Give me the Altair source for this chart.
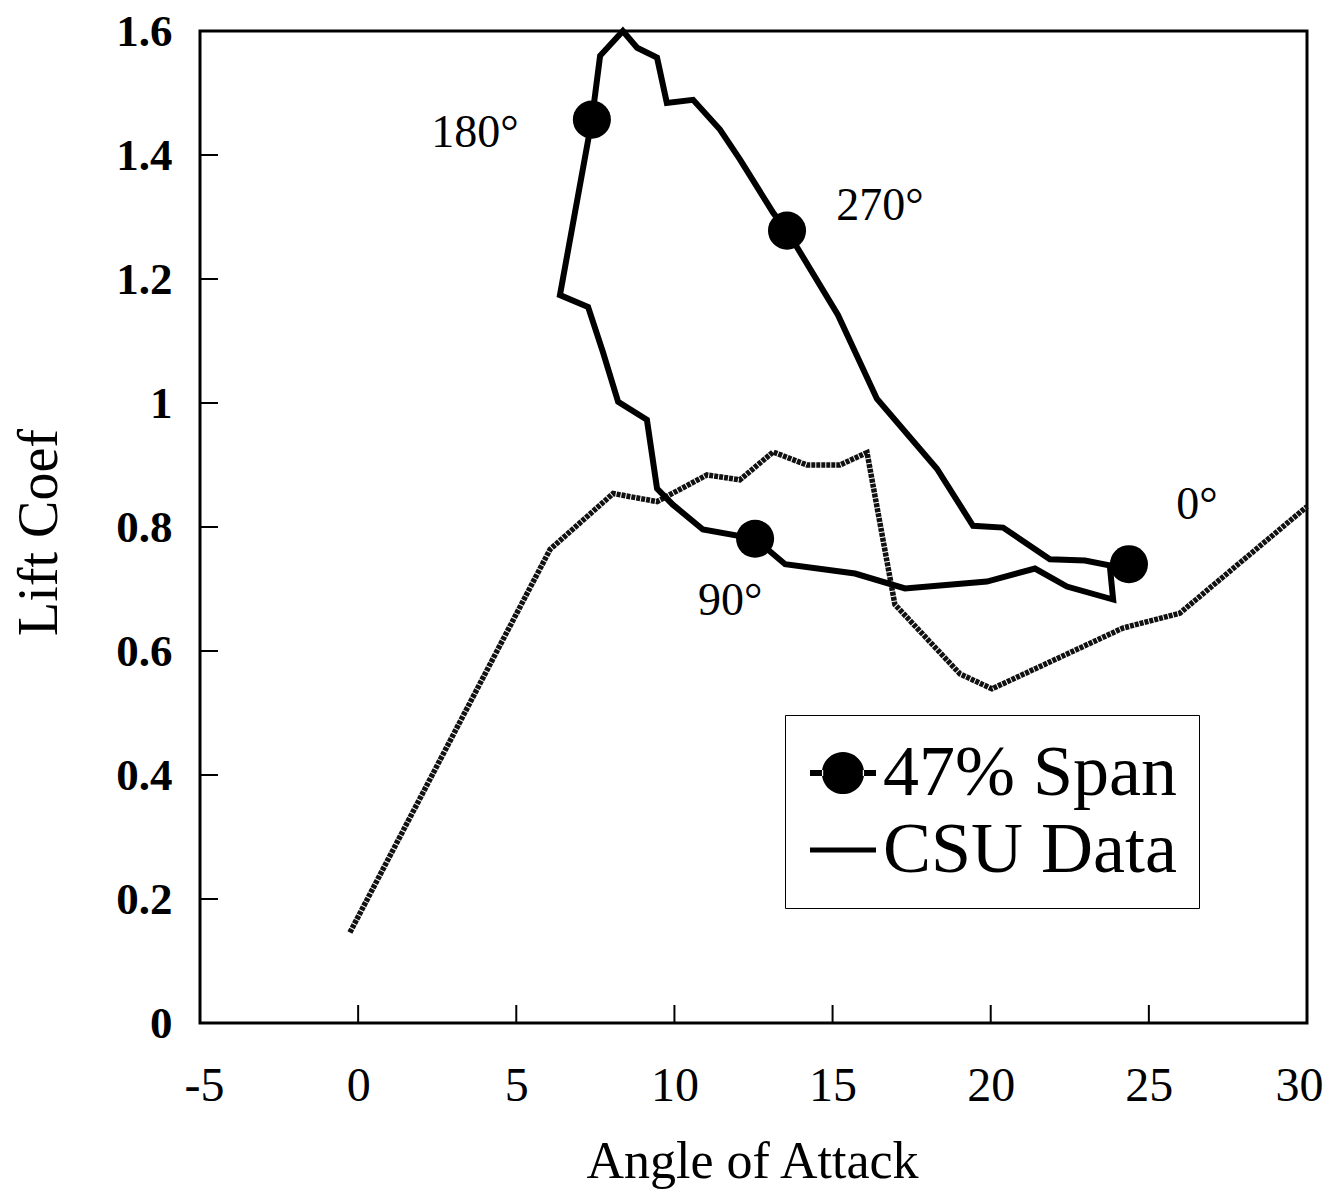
import altair as alt
import pandas as pd

# ---- data ----
span_x = [24.37, 23.77, 23.87, 22.41, 21.40, 19.88, 17.29, 15.71, 13.50, 12.55, 10.90, 9.95, 9.45,
          9.13, 8.22, 7.74, 7.27, 6.38, 7.39, 7.65, 8.37, 8.82, 9.45, 9.76, 10.59, 11.44, 12.07,
          13.12, 13.56, 15.17, 16.40, 18.30, 19.44, 20.39, 21.87, 22.98, 23.77, 24.37]
span_y = [0.740, 0.735, 0.683, 0.704, 0.733, 0.712, 0.701, 0.725, 0.740, 0.781, 0.796, 0.836, 0.862,
          0.973, 1.002, 1.082, 1.155, 1.174, 1.457, 1.560, 1.600, 1.573, 1.557, 1.484, 1.489, 1.441, 1.393,
          1.307, 1.278, 1.142, 1.007, 0.894, 0.802, 0.799, 0.748, 0.746, 0.738, 0.740]

marker_x = [24.37, 12.55, 7.39, 13.56]
marker_y = [0.740, 0.781, 1.457, 1.278]

csu_x = [-0.26, 6.07, 8.06, 9.45, 11.03, 12.07, 13.12, 14.19, 15.23, 16.09, 16.97, 19.03, 20.04, 24.18, 25.98, 30.0]
csu_y = [0.146, 0.764, 0.854, 0.841, 0.884, 0.876, 0.921, 0.900, 0.900, 0.920, 0.675, 0.563, 0.539, 0.637, 0.661, 0.833]

label_text = ["180°", "270°", "90°", "0°"]
label_x = [3.69, 16.50, 11.76, 26.52]
label_y = [1.436, 1.318, 0.680, 0.836]

x_ticks = [-5, 0, 5, 10, 15, 20, 25, 30]
y_ticks = [0, 0.2, 0.4, 0.6, 0.8, 1.0, 1.2, 1.4, 1.6]
x_inner_ticks = [0, 5, 10, 15, 20, 25]
y_inner_ticks = [0.2, 0.4, 0.6, 0.8, 1.0, 1.2, 1.4]

series_names = ["47% Span", "CSU Data"]

# ---- tables ----
span_df = pd.DataFrame({"x": span_x, "y": span_y, "i": list(range(len(span_x)))})
csu_df = pd.DataFrame({"x": csu_x, "y": csu_y, "i": list(range(len(csu_x)))})
mk_df = pd.DataFrame({"x": marker_x, "y": marker_y, "series": series_names[0]})
lab_df = pd.DataFrame({"x": label_x, "y": label_y, "label": label_text})
xt_df = pd.DataFrame({"x": x_inner_ticks})
yt_df = pd.DataFrame({"y": y_inner_ticks})

FONT = "Liberation Serif"
xscale = alt.Scale(domain=[-5, 30], nice=False, zero=False)
yscale = alt.Scale(domain=[0, 1.6], nice=False, zero=False)

xaxis = alt.Axis(values=x_ticks, labelExpr="'' + datum.value", title="Angle of Attack",
                 labelFont=FONT, labelFontSize=48, labelColor="black",
                 labelPadding=77, labelBaseline="alphabetic",
                 labelFlush=True, labelFlushOffset=16, labelOverlap=False,
                 ticks=True, tickSize=0, domain=False, grid=False,
                 titleFont=FONT, titleFontSize=52, titleFontWeight="normal", titleColor="black",
                 titleX=552, titleY=154, titleAlign="center", titleBaseline="alphabetic")
yaxis = alt.Axis(values=y_ticks, labelExpr="'' + datum.value", title="Lift Coef",
                 labelFont=FONT, labelFontSize=45, labelFontWeight="bold", labelColor="black",
                 labelPadding=28, labelFlush=False, labelOverlap=False,
                 ticks=True, tickSize=0, domain=False, grid=False,
                 titleFont=FONT, titleFontSize=56, titleFontWeight="normal", titleColor="black",
                 titleAngle=270, titleX=-144, titleY=501, titleAlign="center", titleBaseline="alphabetic")

X = alt.X("x:Q", scale=xscale, axis=xaxis)
Y = alt.Y("y:Q", scale=yscale, axis=yaxis)
Xp = alt.X("x:Q", scale=xscale)
Yp = alt.Y("y:Q", scale=yscale)

csu = alt.Chart(csu_df).mark_line(color="#111111", strokeWidth=5.5, strokeDash=[4, 1]).encode(
    x=X, y=Y, order=alt.Order("i:Q"))

span = alt.Chart(span_df).mark_line(color="black", strokeWidth=6, strokeJoin="miter").encode(
    x=Xp, y=Yp, order=alt.Order("i:Q"))

markers = alt.Chart(mk_df).mark_point(filled=True, shape="circle", size=1450, color="black", opacity=1).encode(
    x=Xp, y=Yp)

# legend symbols built from filled shapes only (unit box -1..1)
span_path = ("M-1,-0.09L-0.6,-0.09L-0.6,0.09L-1,0.09Z"
             "M0.6,-0.09L1,-0.09L1,0.09L0.6,0.09Z"
             "M-0.64,0A0.64,0.64,0,1,0,0.64,0A0.64,0.64,0,1,0,-0.64,0Z")
csu_path = "M-1,-0.075L1,-0.075L1,0.075L-1,0.075Z"

legend_layer = alt.Chart(mk_df).mark_point(filled=True, color="black", opacity=0).encode(
    x=Xp, y=Yp,
    shape=alt.Shape("series:N",
                    scale=alt.Scale(domain=series_names, range=[span_path, csu_path]),
                    legend=alt.Legend(
                        title=None, orient="none", legendX=585, legendY=684,
                        labelFont=FONT, labelFontSize=72, labelColor="black", labelLimit=700,
                        labelOffset=4, padding=22, rowPadding=5,
                        symbolSize=4356, symbolStrokeWidth=0, symbolOpacity=1,
                        symbolFillColor="black",
                        strokeColor="black", fillColor="white")))

labels = alt.Chart(lab_df).mark_text(font=FONT, fontSize=46, color="black").encode(
    x=Xp, y=Yp, text="label:N")

ytk = alt.Chart(yt_df).mark_rule(color="black", strokeWidth=2).encode(
    y=Yp, x=alt.value(0), x2=alt.value(18))
xtk = alt.Chart(xt_df).mark_rule(color="black", strokeWidth=2).encode(
    x=Xp, y=alt.value(992), y2=alt.value(974))

chart = alt.layer(csu, span, markers, labels, ytk, xtk, legend_layer).properties(
    width=1107, height=992,
    autosize=alt.AutoSizeParams(type="none"),
    padding={"left": 192, "top": 23, "right": 18, "bottom": 169},
    background="white",
).configure_view(stroke="black", strokeWidth=3)

chart.save("out.html", embed_options={"renderer": "svg", "actions": False})
